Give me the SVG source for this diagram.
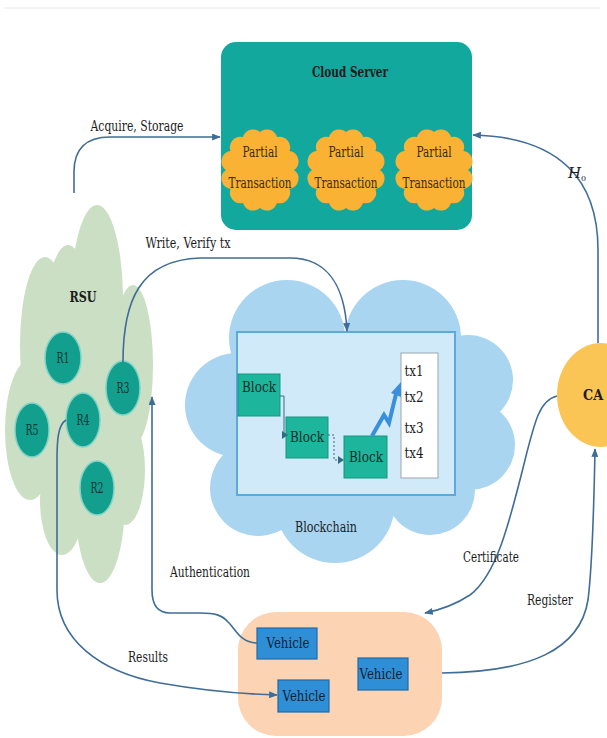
<svg xmlns="http://www.w3.org/2000/svg" width="607" height="738" viewBox="0 0 607 738">
  <style>
    text { font-family: "DejaVu Serif", "Liberation Serif", serif; fill: #1c1c1c; text-anchor: middle; }
    .lbl { font-size: 15px; }
    .bold { font-weight: bold; }
    .conn { fill: none; stroke: #3f6d98; stroke-width: 1.6; }
    .rsu-node { fill: #139f8d; stroke: #7dd3c7; stroke-width: 1.5; }
    .rsu-txt { font-size: 14px; fill: #0c3834; }
    .blob { fill: #f9b234; }
    .blob-txt { font-size: 15px; fill: #3a2b0c; }
    .block { fill: #1db59b; stroke: #179580; stroke-width: 1; }
    .block-txt { font-size: 15px; fill: #142f2c; }
    .veh { fill: #2f8fd6; stroke: #1f6aa8; stroke-width: 1.2; }
    .veh-txt { font-size: 15px; fill: #0d2236; }
    .tx-txt { font-size: 15px; fill: #1c1c1c; }
    .cloud-blue { fill: #a9d5f1; }
    .cloud-green { fill: #cadfc3; }
  </style>
  <defs>
    <marker id="arrow" viewBox="0 0 10 8" refX="9" refY="4" markerWidth="9" markerHeight="7" markerUnits="userSpaceOnUse" orient="auto">
      <path d="M0,0 L10,4 L0,8 z" fill="#3f6d98"/>
    </marker>
    <!-- scalloped blob used for partial transactions -->
    <path id="scallop" d="M0,-38 A10.5,10.5 0 0 1 17,-32.91 A10.5,10.5 0 0 1 29.44,-19 A10.5,10.5 0 0 1 34,0 A10.5,10.5 0 0 1 29.44,19 A10.5,10.5 0 0 1 17,32.91 A10.5,10.5 0 0 1 0,38 A10.5,10.5 0 0 1 -17,32.91 A10.5,10.5 0 0 1 -29.44,19 A10.5,10.5 0 0 1 -34,0 A10.5,10.5 0 0 1 -29.44,-19 A10.5,10.5 0 0 1 -17,-32.91 A10.5,10.5 0 0 1 0,-38 Z"/>
  </defs>

  <rect width="607" height="738" fill="#ffffff"/>
  <line x1="4" y1="8" x2="600" y2="8" stroke="#e8e8e8" stroke-width="1"/>

  <!-- Cloud server -->
  <g id="cloud-server">
    <rect x="221" y="42" width="251" height="188" rx="15" fill="#12a89d"/>
    <text class="lbl bold" x="350" y="77" textLength="76" lengthAdjust="spacingAndGlyphs" fill="#0b3535">Cloud Server</text>
    <g id="partial-1">
      <use href="#scallop" class="blob" transform="translate(260,170)"/>
      <text class="blob-txt" x="260" y="157" textLength="35" lengthAdjust="spacingAndGlyphs">Partial</text>
      <text class="blob-txt" x="260" y="188" textLength="63" lengthAdjust="spacingAndGlyphs">Transaction</text>
    </g>
    <g id="partial-2">
      <use href="#scallop" class="blob" transform="translate(346,170)"/>
      <text class="blob-txt" x="346" y="157" textLength="35" lengthAdjust="spacingAndGlyphs">Partial</text>
      <text class="blob-txt" x="346" y="188" textLength="63" lengthAdjust="spacingAndGlyphs">Transaction</text>
    </g>
    <g id="partial-3">
      <use href="#scallop" class="blob" transform="translate(434,170)"/>
      <text class="blob-txt" x="434" y="157" textLength="35" lengthAdjust="spacingAndGlyphs">Partial</text>
      <text class="blob-txt" x="434" y="188" textLength="63" lengthAdjust="spacingAndGlyphs">Transaction</text>
    </g>
  </g>

  <!-- RSU cluster -->
  <g id="rsu">
    <g class="cloud-green">
      <ellipse cx="97" cy="300" rx="26" ry="95"/>
      <ellipse cx="68" cy="320" rx="22" ry="75"/>
      <ellipse cx="45" cy="345" rx="25" ry="88"/>
      <ellipse cx="133" cy="365" rx="20" ry="80"/>
      <ellipse cx="30" cy="430" rx="25" ry="70"/>
      <ellipse cx="80" cy="410" rx="62" ry="105"/>
      <ellipse cx="100" cy="500" rx="25" ry="83"/>
      <ellipse cx="62" cy="500" rx="22" ry="55"/>
      <ellipse cx="125" cy="470" rx="20" ry="55"/>
    </g>
    <text class="lbl bold" x="83" y="302" textLength="27" lengthAdjust="spacingAndGlyphs">RSU</text>
    <g id="r1"><ellipse class="rsu-node" cx="63" cy="358" rx="18" ry="26"/><text class="rsu-txt" x="63" y="363" textLength="13" lengthAdjust="spacingAndGlyphs">R1</text></g>
    <g id="r3"><ellipse class="rsu-node" cx="123" cy="388" rx="17" ry="27"/><text class="rsu-txt" x="123" y="393" textLength="13" lengthAdjust="spacingAndGlyphs">R3</text></g>
    <g id="r4"><ellipse class="rsu-node" cx="83" cy="420" rx="17" ry="27"/><text class="rsu-txt" x="83" y="425" textLength="13" lengthAdjust="spacingAndGlyphs">R4</text></g>
    <g id="r5"><ellipse class="rsu-node" cx="32" cy="430" rx="17" ry="27"/><text class="rsu-txt" x="32" y="435" textLength="13" lengthAdjust="spacingAndGlyphs">R5</text></g>
    <g id="r2"><ellipse class="rsu-node" cx="97" cy="488" rx="17" ry="27"/><text class="rsu-txt" x="97" y="493" textLength="13" lengthAdjust="spacingAndGlyphs">R2</text></g>
  </g>

  <!-- Blockchain -->
  <g id="blockchain">
    <g class="cloud-blue">
      <rect x="240" y="345" width="230" height="155"/>
      <circle cx="287" cy="338" r="58"/>
      <circle cx="403" cy="338" r="58"/>
      <circle cx="237" cy="405" r="52"/>
      <circle cx="468" cy="380" r="45"/>
      <circle cx="470" cy="445" r="45"/>
      <circle cx="258" cy="488" r="48"/>
      <circle cx="335" cy="503" r="60"/>
      <circle cx="430" cy="490" r="45"/>
    </g>
    <rect x="237" y="332" width="218" height="163" fill="#d1eaf9" stroke="#5ea9dc" stroke-width="2"/>
    <g id="block-1"><rect class="block" x="238" y="374" width="42" height="42"/><text class="block-txt" x="259" y="392" textLength="34" lengthAdjust="spacingAndGlyphs">Block</text></g>
    <g id="block-2"><rect class="block" x="286" y="417" width="42" height="41"/><text class="block-txt" x="307" y="442" textLength="34" lengthAdjust="spacingAndGlyphs">Block</text></g>
    <g id="block-3"><rect class="block" x="344" y="436" width="43" height="42"/><text class="block-txt" x="366" y="462" textLength="34" lengthAdjust="spacingAndGlyphs">Block</text></g>
    <g id="tx-list">
      <rect x="401" y="353" width="37" height="125" fill="#ffffff" stroke="#9aa6ad" stroke-width="1"/>
      <text class="tx-txt" x="414" y="376" textLength="19" lengthAdjust="spacingAndGlyphs">tx1</text>
      <text class="tx-txt" x="414" y="402" textLength="19" lengthAdjust="spacingAndGlyphs">tx2</text>
      <text class="tx-txt" x="414" y="433" textLength="19" lengthAdjust="spacingAndGlyphs">tx3</text>
      <text class="tx-txt" x="414" y="458" textLength="19" lengthAdjust="spacingAndGlyphs">tx4</text>
    </g>
    <!-- links between blocks -->
    <path d="M280,396 H284 V435" fill="none" stroke="#2f6c80" stroke-width="1"/>
    <polygon points="282,431 288,435 282,439" fill="#2f6c80"/>
    <path d="M328,435 H334 V460 H338" fill="none" stroke="#2f6c80" stroke-width="1" stroke-dasharray="2,2"/>
    <polygon points="338,456 344,460 338,464" fill="#2f6c80"/>
    <!-- lightning arrow to transactions -->
    <path d="M372,436 L384,415 L389,423 L396,394" fill="none" stroke="#3a8fdc" stroke-width="4" stroke-linejoin="miter"/>
    <polygon points="391,393 401,382 401,397" fill="#3a8fdc"/>
    <text class="lbl" x="326" y="532" textLength="62" lengthAdjust="spacingAndGlyphs">Blockchain</text>
  </g>

  <!-- Certificate authority -->
  <g id="ca">
    <ellipse cx="601" cy="395" rx="44" ry="52" fill="#fbc555"/>
    <text class="lbl bold" x="593" y="400" textLength="20" lengthAdjust="spacingAndGlyphs">CA</text>
  </g>

  <!-- Vehicles -->
  <g id="vehicles">
    <rect x="238" y="612" width="204" height="124" rx="38" fill="#fcd4b4"/>
    <g id="vehicle-1"><rect class="veh" x="257" y="628" width="60" height="31"/><text class="veh-txt" x="288" y="648" textLength="43" lengthAdjust="spacingAndGlyphs">Vehicle</text></g>
    <g id="vehicle-2"><rect class="veh" x="278" y="680" width="51" height="32"/><text class="veh-txt" x="304" y="701" textLength="43" lengthAdjust="spacingAndGlyphs">Vehicle</text></g>
    <g id="vehicle-3"><rect class="veh" x="358" y="658" width="50" height="32"/><text class="veh-txt" x="381" y="679" textLength="43" lengthAdjust="spacingAndGlyphs">Vehicle</text></g>
  </g>

  <!-- Connectors -->
  <g id="connectors">
    <path class="conn" d="M74,193 V172 Q74,137 110,137 H220" marker-end="url(#arrow)"/>
    <path class="conn" d="M598,343 V250 C598,180 560,137 473,135" marker-end="url(#arrow)"/>
    <path class="conn" d="M123,362 C123,300 140,260 200,258 L290,258 C330,258 345,290 347,331" marker-end="url(#arrow)"/>
    <path class="conn" d="M557,396 C540,400 535,420 525,460 C510,520 497,575 470,595 Q450,608 425,613" marker-end="url(#arrow)"/>
    <path class="conn" d="M442,673 C530,672 580,650 588,600 C593,560 594,500 595,449" marker-end="url(#arrow)"/>
    <path class="conn" d="M257,643 C240,643 235,628 228,622 C222,615 215,613 200,613 L170,613 C158,613 152,605 152,590 L152,397" marker-end="url(#arrow)"/>
    <path class="conn" d="M66,420 C58,425 57,440 57,460 L57,590 C57,640 100,672 160,683 C200,690 240,694 277,695" marker-end="url(#arrow)"/>
  </g>

  <!-- Connector labels -->
  <g id="labels">
    <text class="lbl" x="137" y="131" textLength="93" lengthAdjust="spacingAndGlyphs">Acquire, Storage</text>
    <text class="lbl" x="188" y="248" textLength="85" lengthAdjust="spacingAndGlyphs">Write, Verify tx</text>
    <text class="lbl" x="577" y="178"><tspan font-style="italic">H</tspan><tspan font-size="8" dy="3">0</tspan></text>
    <text class="lbl" x="491" y="562" textLength="56" lengthAdjust="spacingAndGlyphs">Certificate</text>
    <text class="lbl" x="550" y="605" textLength="46" lengthAdjust="spacingAndGlyphs">Register</text>
    <text class="lbl" x="210" y="577" textLength="80" lengthAdjust="spacingAndGlyphs">Authentication</text>
    <text class="lbl" x="148" y="662" textLength="40" lengthAdjust="spacingAndGlyphs">Results</text>
  </g>
</svg>
